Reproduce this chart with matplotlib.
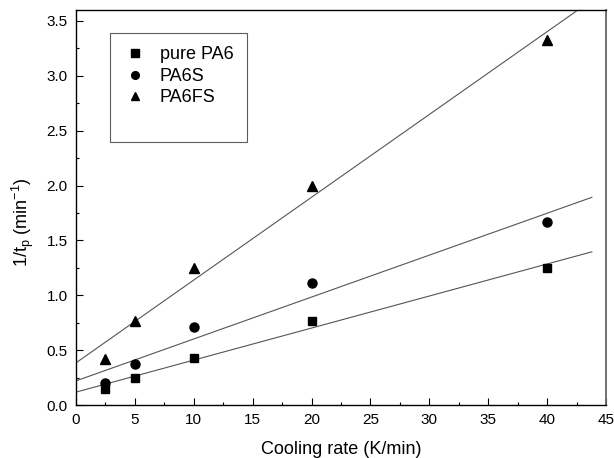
import numpy as np
import matplotlib
matplotlib.use("Agg")
import matplotlib.pyplot as plt
from matplotlib.ticker import MultipleLocator
from matplotlib.lines import Line2D

plt.rcParams['font.family'] = ['Liberation Sans', 'DejaVu Sans']

cooling_rate = [2.5, 5, 10, 20, 40]
pure_pa6 = [0.15, 0.25, 0.43, 0.77, 1.25]
pa6s = [0.20, 0.37, 0.71, 1.11, 1.67]
pa6fs = [0.42, 0.77, 1.25, 2.00, 3.33]
series_names = ["pure PA6", "PA6S", "PA6FS"]
markers = ["s", "o", "^"]

fig = plt.figure(figsize=(6.14, 4.58), dpi=100)
ax = fig.add_axes([0.1238, 0.1157, 0.8632, 0.8625])

xfit = np.array([0.0, 43.8])
handles = []
for vals, name, m in zip([pure_pa6, pa6s, pa6fs], series_names, markers):
    ms = 6.0 if m == "s" else (6.5 if m == "o" else 7.0)
    ax.plot(cooling_rate, vals, linestyle='none', marker=m, color='black',
            markersize=ms, zorder=3)
    k, b = np.polyfit(cooling_rate, vals, 1)
    ax.plot(xfit, k * xfit + b, color='#555555', lw=0.8, zorder=2)
    handles.append(Line2D([], [], linestyle='none', marker=m, color='black',
                          markersize=ms * 0.85, label=name))
handles.append(Line2D([], [], linestyle='none', label=' '))

ax.set_xlim(0, 45)
ax.set_ylim(0, 3.6)
ax.xaxis.set_major_locator(MultipleLocator(5))
ax.xaxis.set_minor_locator(MultipleLocator(2.5))
ax.yaxis.set_major_locator(MultipleLocator(0.5))
ax.yaxis.set_minor_locator(MultipleLocator(0.25))
ax.yaxis.set_major_formatter(matplotlib.ticker.FormatStrFormatter('%.1f'))
ax.tick_params(which='both', direction='in', top=False, right=False,
               labelsize=11, width=0.8)
ax.tick_params(which='major', length=5, pad=6)
ax.tick_params(which='minor', length=2.5)
for s in ax.spines.values():
    s.set_linewidth(1.0)
ax.spines['right'].set_color('#666666')
ax.spines['right'].set_linewidth(1.3)

ax.set_xlabel("Cooling rate (K/min)", fontsize=13, labelpad=10)
ax.set_ylabel(r"1/t$_\mathregular{p}$ (min$^\mathregular{-1}$)", fontsize=13)
ax.yaxis.set_label_coords(-0.076, 0.463)

leg = ax.legend(handles=handles, loc='upper left', bbox_to_anchor=(0.064, 0.942),
                frameon=True, fancybox=False, edgecolor='#333333', fontsize=13,
                handletextpad=0.72, borderpad=0.75, labelspacing=0.25,
                handlelength=1.3, borderaxespad=0)
leg.get_frame().set_linewidth(0.8)

fig.savefig("out.png", dpi=100)
